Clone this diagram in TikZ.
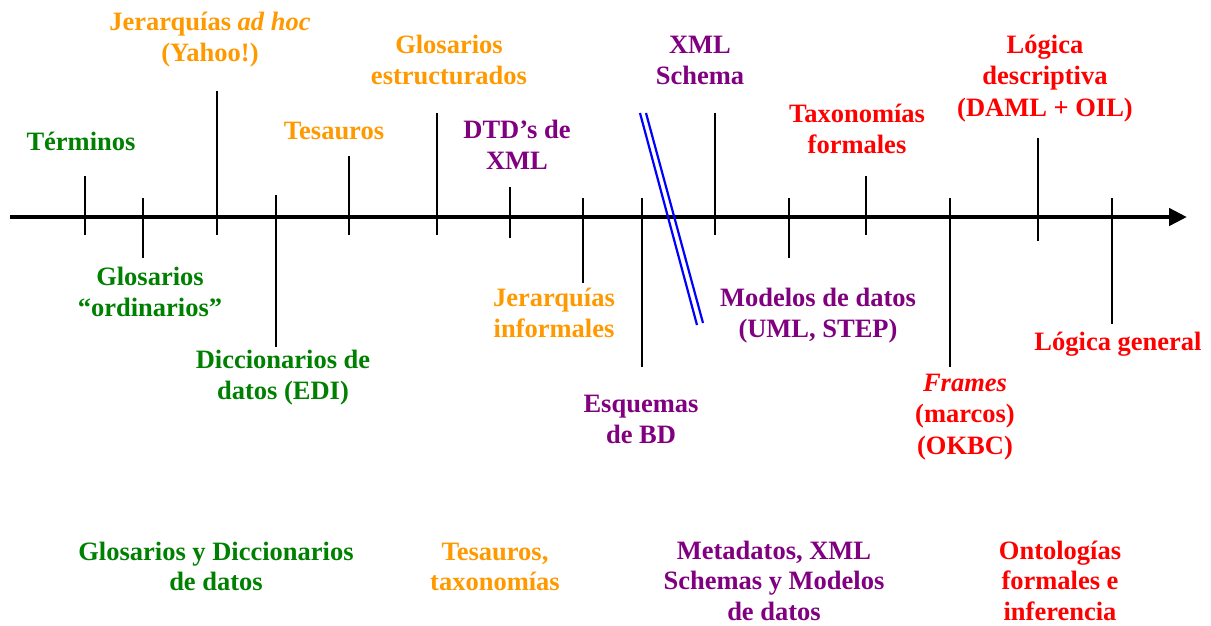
\documentclass[tikz,border=0pt]{standalone}
\usepackage{fontspec}
\setmainfont{Liberation Serif}
\usetikzlibrary{arrows.meta}
\definecolor{cgreen}{RGB}{0,128,0}
\definecolor{corange}{RGB}{255,153,0}
\definecolor{cpurple}{RGB}{128,0,128}
\definecolor{cred}{RGB}{255,0,0}
\begin{document}
\begin{tikzpicture}[x=1pt,y=-1pt,
  lbl/.style={anchor=base,align=center,inner sep=0pt,font=\fontsize{26.5}{31.5}\selectfont\bfseries},
  lblb/.style={lbl,font=\fontsize{26.5}{30.5}\selectfont\bfseries},
  tick/.style={line width=2.8pt,black},
  axis/.style={line width=4.4pt,black,-{Triangle[length=18pt,width=17pt]}},
  sep/.style={line width=2.2pt,blue}]
\useasboundingbox (0,0) rectangle (1211,625);
% axis
\coordinate (a0) at (10,217);
\coordinate (a1) at (1187,217);
\draw[axis] (a0) -- (a1);
% ticks
\foreach \x/\t/\b in {85/176/235,143/198/258,217/91/235,276/195/347,349/156/235,
  437/113/235,510/187/238,583/198/283,642/198/367,715/113/235,789/198/258,
  866/176/235,950/198/367,1038/138/241,1112/198/324}{
  \draw[tick] (\x,\t) -- (\x,\b);
}
% blue double separator
\coordinate (s1a) at (640,113);
\coordinate (s1b) at (697,325);
\coordinate (s2a) at (646,113);
\coordinate (s2b) at (703,323);
\draw[sep] (s1a) -- (s1b);
\draw[sep] (s2a) -- (s2b);
% labels above (anchor = baseline of last line)
\node[lbl,cgreen] (terminos) at (81,150) {Términos};
\node[lbl,corange] (jadhoc) at (210,61.5) {Jerarquías \textit{ad hoc}\\(Yahoo!)};
\node[lbl,corange] (gestr) at (449,84.5) {Glosarios\\estructurados};
\node[lbl,corange] (tesauros) at (334,139) {Tesauros};
\node[lbl,cpurple] (dtd) at (517,169.5) {DTD’s de\\XML};
\node[lbl,cpurple] (xmls) at (700,84.5) {XML\\Schema};
\node[lbl,cred] (taxf) at (857,153.5) {Taxonomías\\formales};
\node[lbl,cred] (logd) at (1045,116) {Lógica\\descriptiva\\(DAML + OIL)};
% labels below
\node[lbl,cgreen] (gord) at (150,316.5) {Glosarios\\“ordinarios”};
\node[lbl,cgreen] (dicc) at (283,399.5) {Diccionarios de\\datos (EDI)};
\node[lbl,corange] (jinf) at (554,337.5) {Jerarquías\\informales};
\node[lbl,cpurple] (esq) at (641,443.5) {Esquemas\\de BD};
\node[lbl,cpurple] (mod) at (818,337.5) {Modelos de datos\\(UML, STEP)};
\node[lbl,cred] (frames) at (965,454) {\textit{Frames}\\(marcos)\\(OKBC)};
\node[lbl,cred] (logg) at (1118,350) {Lógica general};
% bottom categories
\node[lblb,cgreen] (cat1) at (216,590.5) {Glosarios y Diccionarios\\de datos};
\node[lblb,corange] (cat2) at (495,590.5) {Tesauros,\\taxonomías};
\node[lblb,cpurple] (cat3) at (774,620) {Metadatos, XML\\Schemas y Modelos\\de datos};
\node[lblb,cred] (cat4) at (1060,620) {Ontologías\\formales e\\inferencia};
\end{tikzpicture}
\end{document}
